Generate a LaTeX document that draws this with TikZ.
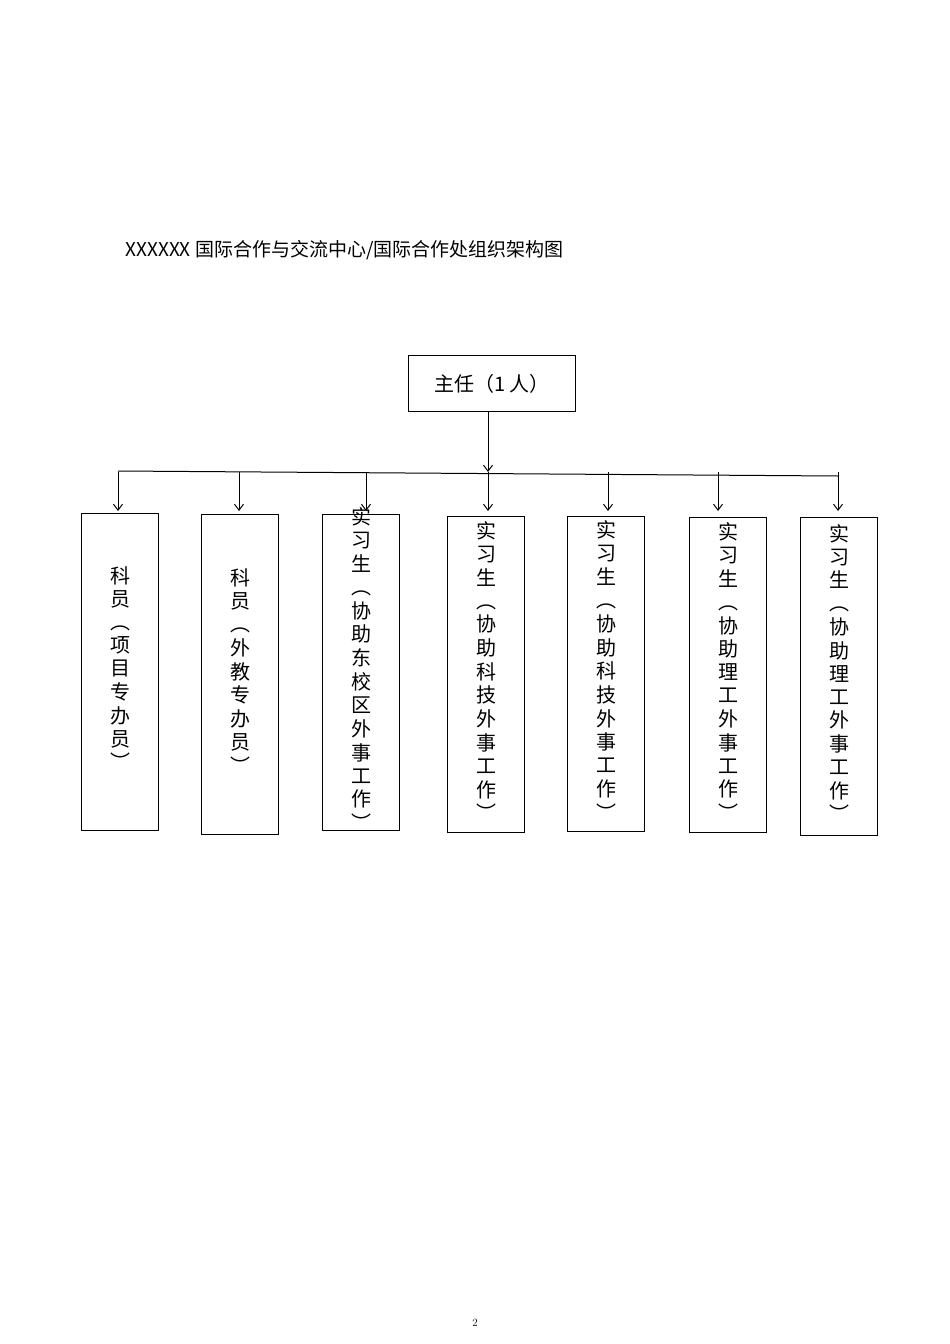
\documentclass[tikz,border=0pt]{standalone}
\usepackage{fontspec}
\newfontfamily\cjk{Noto Sans CJK SC}
\usetikzlibrary{arrows.meta}
\newcommand{\vt}[1]{\begin{tabular}{@{}c@{}}#1\end{tabular}}
\begin{document}
\begin{tikzpicture}[x=1pt,y=-1pt,
  box/.style={draw,line width=1pt,minimum width=77pt,anchor=north west,inner sep=0pt},
  vtext/.style={font=\cjk\fontsize{20}{23}\selectfont,align=center},
  arr/.style={line width=1pt,-{Straight Barb[length=6pt,width=9pt]}}]
\useasboundingbox (0,0) rectangle (950,1344);
\node[anchor=west,font=\cjk\fontsize{19}{22}\selectfont] (title) at (122,250) {XXXXXX 国际合作与交流中心/国际合作处组织架构图};
\node[draw,line width=1pt,minimum width=167pt,minimum height=56pt,anchor=north west,font=\cjk\fontsize{20}{24}\selectfont] (top) at (408,355) {主任（1 人）};
\coordinate (L) at (118,471);
\coordinate (R) at (838,476);
\coordinate (M) at (488,472);
\draw[line width=1pt] (L) -- (R);
\draw[arr] (top.south -| M) -- (M);
\foreach \n/\x/\yt/\yb/\t in {
 1/81/513/830/{科\\员\\︵\\项\\目\\专\\办\\员\\︶},
 2/201/514/834/{科\\员\\︵\\外\\教\\专\\办\\员\\︶},
 3/322/514/830/{实\\习\\生\\︵\\协\\助\\东\\校\\区\\外\\事\\工\\作\\︶},
 4/447/516/832/{实\\习\\生\\︵\\协\\助\\科\\技\\外\\事\\工\\作\\︶},
 5/567/516/831/{实\\习\\生\\︵\\协\\助\\科\\技\\外\\事\\工\\作\\︶},
 6/689/517/832/{实\\习\\生\\︵\\协\\助\\理\\工\\外\\事\\工\\作\\︶},
 7/800/517/835/{实\\习\\生\\︵\\协\\助\\理\\工\\外\\事\\工\\作\\︶}}{
  \node[box,minimum height={\yb-\yt}] (b\n) at (\x,\yt) {};
  \node[vtext] (t\n) at (b\n.center) {\vt{\t}};
}
\foreach \n/\x in {1/118,2/239,3/366,4/488,5/608,6/718,7/838}{
  \coordinate (c\n) at (\x,472);
  \draw[arr] (c\n) -- (\x,511);
}
\node[font=\fontsize{11}{13}\selectfont] (pg) at (475,1323) {2};
\end{tikzpicture}
\end{document}
